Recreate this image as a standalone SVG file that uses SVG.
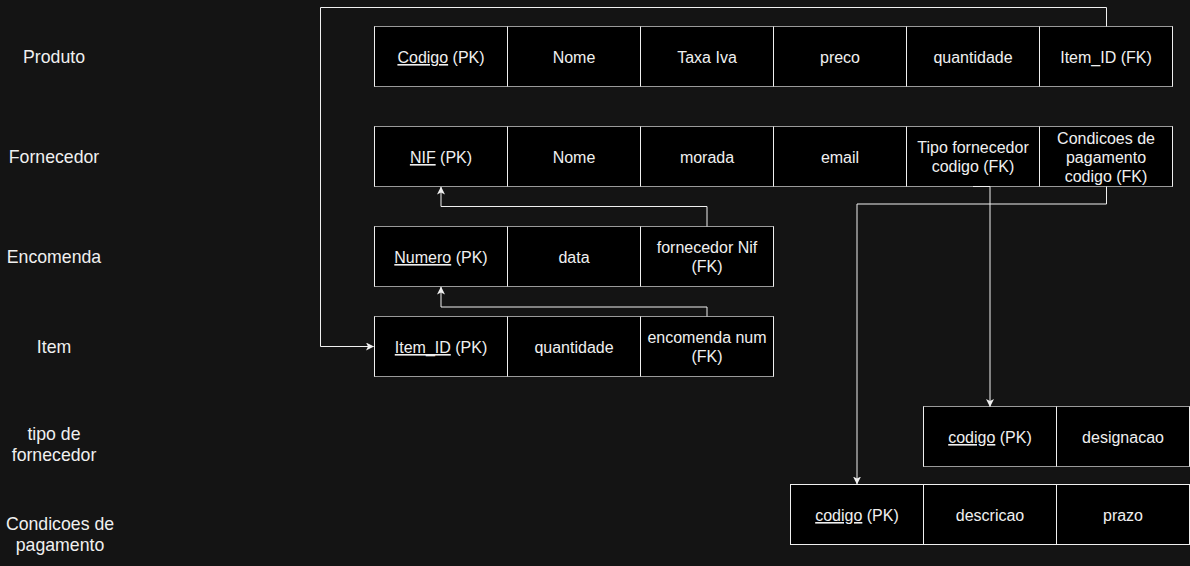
<svg xmlns="http://www.w3.org/2000/svg" width="1190" height="566" viewBox="0 0 1190 566">
<defs>
<style>
.bg{fill:#141414}
.tbl{fill:#000;stroke:#9a9a9a;stroke-width:1}
.div{stroke:#f0f0f0;stroke-width:1;fill:none}
.ct{font-family:"Liberation Sans",Arial,sans-serif;font-size:16px;fill:#f0f0f0;text-anchor:middle}
.lb{font-family:"Liberation Sans",Arial,sans-serif;font-size:17.7px;fill:#f0f0f0;text-anchor:middle}
.u{text-decoration:underline}
.edge{fill:none;stroke:#f0f0f0;stroke-width:1}
</style>
<marker id="arr" viewBox="0 0 8 8" refX="7.5" refY="4" markerWidth="8" markerHeight="8" markerUnits="userSpaceOnUse" orient="auto">
<path d="M0,0 L8,4 L0,8 L2,4 z" fill="#f0f0f0"/>
</marker>
</defs>
<rect class="bg" x="0" y="0" width="1190" height="566"/>

<g id="labels">
<text class="lb" x="54" y="63">Produto</text>
<text class="lb" x="54" y="163">Fornecedor</text>
<text class="lb" x="54" y="263">Encomenda</text>
<text class="lb" x="54" y="353">Item</text>
<text class="lb" x="54" y="439.5">tipo de</text>
<text class="lb" x="54" y="460.5">fornecedor</text>
<text class="lb" x="60" y="529.5">Condicoes de</text>
<text class="lb" x="60" y="550.5">pagamento</text>
</g>

<g id="produto">
<rect class="tbl" x="374.5" y="26.5" width="798" height="60"/>
<path class="div" d="M374.5 26.5V86.5M507.5 26.5V86.5M640.5 26.5V86.5M773.5 26.5V86.5M906.5 26.5V86.5M1039.5 26.5V86.5M1172.5 26.5V86.5"/>
<text class="ct" x="441" y="63"><tspan class="u">Codigo</tspan> (PK)</text>
<text class="ct" x="574" y="63">Nome</text>
<text class="ct" x="707" y="63">Taxa Iva</text>
<text class="ct" x="840" y="63">preco</text>
<text class="ct" x="973" y="63">quantidade</text>
<text class="ct" x="1106" y="63">Item_ID (FK)</text>
</g>

<g id="fornecedor">
<rect class="tbl" x="374.5" y="126.5" width="798" height="60"/>
<path class="div" d="M374.5 126.5V186.5M507.5 126.5V186.5M640.5 126.5V186.5M773.5 126.5V186.5M906.5 126.5V186.5M1039.5 126.5V186.5M1172.5 126.5V186.5"/>
<text class="ct" x="441" y="163"><tspan class="u">NIF</tspan> (PK)</text>
<text class="ct" x="574" y="163">Nome</text>
<text class="ct" x="707" y="163">morada</text>
<text class="ct" x="840" y="163">email</text>
<text class="ct" x="973" y="153.2">Tipo fornecedor</text>
<text class="ct" x="973" y="172.4">codigo (FK)</text>
<text class="ct" x="1106" y="143.6">Condicoes de</text>
<text class="ct" x="1106" y="162.8">pagamento</text>
<text class="ct" x="1106" y="182">codigo (FK)</text>
</g>

<g id="encomenda">
<rect class="tbl" x="374.5" y="226.5" width="399" height="60"/>
<path class="div" d="M374.5 226.5V286.5M507.5 226.5V286.5M640.5 226.5V286.5M773.5 226.5V286.5"/>
<text class="ct" x="441" y="263"><tspan class="u">Numero</tspan> (PK)</text>
<text class="ct" x="574" y="263">data</text>
<text class="ct" x="707" y="253.2">fornecedor Nif</text>
<text class="ct" x="707" y="272.4">(FK)</text>
</g>

<g id="item">
<rect class="tbl" x="374.5" y="316.5" width="399" height="60"/>
<path class="div" d="M374.5 316.5V376.5M507.5 316.5V376.5M640.5 316.5V376.5M773.5 316.5V376.5"/>
<text class="ct" x="441" y="353"><tspan class="u">Item_ID</tspan> (PK)</text>
<text class="ct" x="574" y="353">quantidade</text>
<text class="ct" x="707" y="343.2">encomenda num</text>
<text class="ct" x="707" y="362.4">(FK)</text>
</g>

<g id="tipo-fornecedor">
<rect class="tbl" x="923.5" y="406.5" width="266" height="60"/>
<path class="div" d="M923.5 406.5V466.5M1056.5 406.5V466.5M1189.5 406.5V466.5"/>
<text class="ct" x="990" y="443"><tspan class="u">codigo</tspan> (PK)</text>
<text class="ct" x="1123" y="443">designacao</text>
</g>

<g id="condicoes-pagamento">
<rect x="790.5" y="484.5" width="399" height="60" fill="#000" stroke="#f0f0f0"/>
<path class="div" d="M790.5 484.5V544.5M923.5 484.5V544.5M1056.5 484.5V544.5M1189.5 484.5V544.5"/>
<text class="ct" x="857" y="521"><tspan class="u">codigo</tspan> (PK)</text>
<text class="ct" x="990" y="521">descricao</text>
<text class="ct" x="1123" y="521">prazo</text>
</g>

<g id="connectors">
<path class="edge" d="M1106.5 26.5V7.5H320.5V346.5H373.5" marker-end="url(#arr)"/>
<path class="edge" d="M707 226.5V206.5H441V187" marker-end="url(#arr)"/>
<path class="edge" d="M707 316.5V307H441V287" marker-end="url(#arr)"/>
<path class="edge" d="M973 186.5H990V406.5" marker-end="url(#arr)"/>
<path class="edge" d="M1106.5 186.5V204H857V484" marker-end="url(#arr)"/>
</g>
</svg>
